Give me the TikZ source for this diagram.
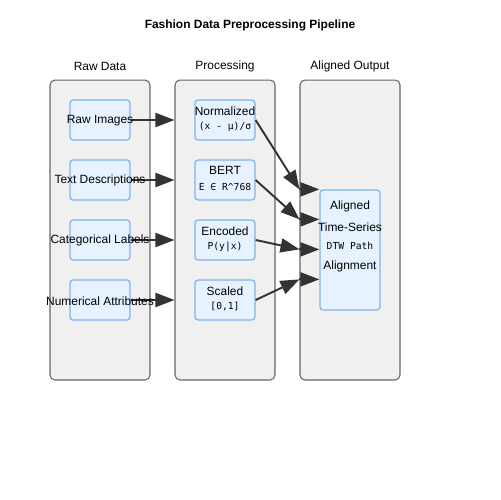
\documentclass[tikz,border=0pt]{standalone}
\usepackage{fontspec}
\setmainfont{Liberation Sans}
\newfontfamily\codefont{DejaVu Sans Mono}
\usetikzlibrary{arrows.meta}
\definecolor{panelgray}{HTML}{F0F0F0}
\definecolor{paneledge}{HTML}{666666}
\definecolor{itemblue}{HTML}{E6F2FF}
\definecolor{itemedge}{HTML}{7FB3EA}
\definecolor{arrowdark}{HTML}{333333}

\tikzset{
  panel/.style={draw=paneledge, fill=panelgray, rounded corners=2.8pt, minimum width=2cm, minimum height=6cm, line width=0.6pt},
  item/.style={draw=itemedge, fill=itemblue, rounded corners=1.8pt, minimum width=1.2cm, minimum height=0.8cm, line width=0.7pt},
  txt/.style={font=\fontsize{6.8}{8}\selectfont, inner sep=0pt, yshift=-0.5pt},
  code/.style={font=\codefont\fontsize{5.5}{7}\selectfont, inner sep=0pt},
  flow/.style={draw=arrowdark, line width=1.1pt, -{Triangle[length=0.38cm,width=0.28cm]}}
}

\begin{document}
\begin{tikzpicture}[x=0.02cm, y=-0.02cm]
\useasboundingbox (0,0) rectangle (500,500);

\node (title) at (250,25) [txt, font=\bfseries\fontsize{6.8}{8}\selectfont]{Fashion Data Preprocessing Pipeline};

\node (raw) at (100,230) [panel]{};
\node (proc) at (225,230) [panel]{};
\node (aligned) at (350,230) [panel]{};
\node (rawl) at (100,66) [txt]{Raw Data};
\node (procl) at (225,66) [txt]{Processing};
\node (alignedl) at (350,66) [txt]{Aligned Output};

\node (r1) at (100,120) [item]{};
\node (r2) at (100,180) [item]{};
\node (r3) at (100,240) [item]{};
\node (r4) at (100,300) [item]{};

\node (p1) at (225,120) [item]{};
\node (p2) at (225,180) [item]{};
\node (p3) at (225,240) [item]{};
\node (p4) at (225,300) [item]{};

\node (o1) at (350,250) [item, minimum height=2.4cm]{};

% entry points on the output box
\coordinate (k1) at (o1.north west);
\coordinate (k2) at ([yshift=-0.6cm]o1.north west);
\coordinate (k3) at ([yshift=-1.2cm]o1.north west);
\coordinate (k4) at ([yshift=-1.8cm]o1.north west);
\coordinate (j1) at (aligned.west |- k1);
\coordinate (j2) at (aligned.west |- k2);
\coordinate (j3) at (aligned.west |- k3);
\coordinate (j4) at (aligned.west |- k4);

% arrows into processing
\draw[flow] (r1.east) -- (proc.west |- r1.east);
\draw[flow] (r2.east) -- (proc.west |- r2.east);
\draw[flow] (r3.east) -- (proc.west |- r3.east);
\draw[flow] (r4.east) -- (proc.west |- r4.east);

% arrows into output
\draw[flow] (p1.east) -- (j1);
\draw[flow] (p2.east) -- (j2);
\draw[flow] (p3.east) -- (j3);
\draw[flow] (p4.east) -- (j4);
\draw[flow] (j1) -- (k1);
\draw[flow] (j2) -- (k2);
\draw[flow] (j3) -- (k3);
\draw[flow] (j4) -- (k4);

\node (t1) at (r1) [txt]{Raw Images};
\node (t2) at (r2) [txt]{Text Descriptions};
\node (t3) at (r3) [txt]{Categorical Labels};
\node (t4) at (r4) [txt]{Numerical Attributes};

\node (q1) at (225,110) [txt]{Normalized};
\node (q1c) at (225,127) [code]{(x - μ)/σ};
\node (q2) at (225,170) [txt]{BERT};
\node (q2c) at (225,187) [code]{E ∈ R\^{}768};
\node (q3) at (225,230) [txt]{Encoded};
\node (q3c) at (225,247) [code]{P(y|x)};
\node (q4) at (225,290) [txt]{Scaled};
\node (q4c) at (225,307) [code]{[0,1]};

\node (u1) at (350,206) [txt]{Aligned};
\node (u2) at (350,226) [txt]{Time-Series};
\node (u3) at (350,246) [code]{DTW Path};
\node (u4) at (350,266) [txt]{Alignment};

\end{tikzpicture}
\end{document}
